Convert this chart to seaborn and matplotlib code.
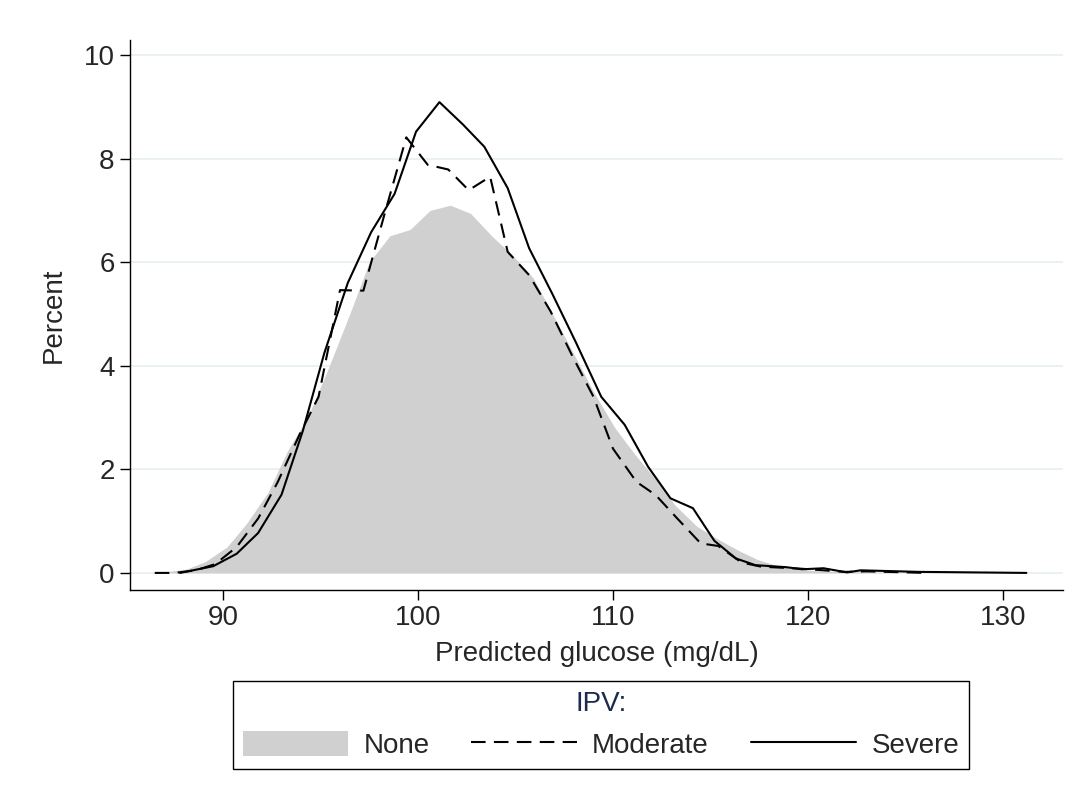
import numpy as np
import pandas as pd
import seaborn as sns
import matplotlib.pyplot as plt
from matplotlib.patches import Patch
from matplotlib.lines import Line2D

# IPV: None (filled area)
none_x = [86.3, 87.0, 88.1, 89.1, 90.2, 91.2, 92.3, 93.3, 94.4, 95.4, 96.5, 97.5,
          98.56, 99.59, 100.62, 101.66, 102.7, 103.8, 104.8, 105.9, 106.9, 108.0,
          109.0, 110.1, 111.1, 112.2, 113.2, 114.3, 115.3, 116.4, 117.4, 118.5,
          119.5, 120.6, 121.6, 122.7, 123.7, 124.8]
none_y = [0.0, 0.02, 0.07, 0.22, 0.5, 0.95, 1.55, 2.35, 3.05, 3.95, 5.0, 6.0,
          6.51, 6.63, 7.0, 7.1, 6.94, 6.5, 6.15, 5.7, 5.0, 4.22,
          3.5, 2.8, 2.3, 1.8, 1.3, 0.9, 0.67, 0.44, 0.26, 0.13,
          0.07, 0.04, 0.03, 0.02, 0.01, 0.0]

# IPV: Moderate (dashed)
mod_x = [86.5, 87.5, 88.6, 89.6, 90.7, 91.8, 92.8, 93.9, 94.9, 96.0, 97.2, 98.3,
         99.4, 100.5, 101.55, 102.6, 103.7, 104.6, 105.7, 106.8, 107.9, 109.0,
         110.0, 111.2, 112.2, 113.3, 114.5, 115.4, 116.6, 117.6, 118.7, 119.7,
         120.8, 121.9, 123.0, 124.0, 125.1, 126.0]
mod_y = [0.0, 0.0, 0.05, 0.17, 0.5, 1.05, 1.75, 2.65, 3.4, 5.46, 5.45, 6.95,
         8.41, 7.88, 7.79, 7.39, 7.65, 6.2, 5.75, 5.05, 4.2, 3.4,
         2.4, 1.76, 1.5, 1.05, 0.57, 0.52, 0.2, 0.12, 0.1, 0.08,
         0.05, 0.02, 0.03, 0.02, 0.01, 0.0]

# IPV: Severe (solid)
sev_x = [87.8, 89.5, 90.7, 91.8, 93.0, 94.1, 95.2, 96.4, 97.6, 98.8, 99.9, 101.1,
         102.3, 103.4, 104.6, 105.7, 106.9, 108.1, 109.4, 110.6, 111.8, 112.95,
         114.1, 115.2, 116.3, 117.3, 118.9, 119.7, 120.8, 122.0, 122.7, 125.7, 131.2]
sev_y = [0.0, 0.13, 0.37, 0.77, 1.51, 2.75, 4.25, 5.6, 6.58, 7.32, 8.52, 9.09,
         8.66, 8.23, 7.43, 6.27, 5.38, 4.45, 3.4, 2.86, 2.05, 1.44,
         1.25, 0.62, 0.28, 0.15, 0.11, 0.07, 0.09, 0.01, 0.05, 0.02, 0.0]

x_ticks = [90, 100, 110, 120, 130]
y_ticks = [0, 2, 4, 6, 8, 10]

sns.set_style("white")
plt.rcParams['font.family'] = ['Liberation Sans', 'DejaVu Sans']

fig = plt.figure(figsize=(10.65, 8.05), dpi=100)
ax = fig.add_axes([130 / 1065, 1 - 590 / 805, (1063 - 130) / 1065, (590 - 40) / 805])

df_none = pd.DataFrame({"glucose": none_x, "pct": none_y})
df_mod = pd.DataFrame({"glucose": mod_x, "pct": mod_y})
df_sev = pd.DataFrame({"glucose": sev_x, "pct": sev_y})

dash = (0, (7, 4))
ax.fill_between(df_none["glucose"], df_none["pct"], 0, color="#d0d0d0", lw=0, zorder=2)
sns.lineplot(data=df_mod, x="glucose", y="pct", ax=ax, color="black", lw=1.5,
             linestyle=dash, estimator=None, sort=False, zorder=3)
sns.lineplot(data=df_sev, x="glucose", y="pct", ax=ax, color="black", lw=1.5,
             estimator=None, sort=False, zorder=4)

ax.set_xlim(85.23, 133.08)
ax.set_ylim(-0.33, 10.29)
ax.set_xticks(x_ticks)
ax.set_yticks(y_ticks)
ax.yaxis.grid(True, color="#e8f0f2", lw=1.3, zorder=0)
ax.xaxis.grid(False)
ax.set_axisbelow(True)

for s in ["top", "right"]:
    ax.spines[s].set_visible(False)
for s in ["left", "bottom"]:
    ax.spines[s].set_color("black")
    ax.spines[s].set_linewidth(1.0)

ax.tick_params(axis="both", direction="out", length=7, width=1, labelsize=20,
               color="black", pad=4, left=True, bottom=True)
ax.set_xlabel("Predicted glucose (mg/dL)", fontsize=20, labelpad=7)
ax.set_ylabel("Percent", fontsize=20, labelpad=12)

handles = [
    Patch(facecolor="#d0d0d0", edgecolor="none"),
    Line2D([], [], color="black", lw=1.5, linestyle=dash),
    Line2D([], [], color="black", lw=1.5),
]
leg = fig.legend(handles, ["None", "Moderate", "Severe"], title="IPV:", ncol=3,
                 loc="center", bbox_to_anchor=(601 / 1065, 1 - 725 / 805),
                 fontsize=20, title_fontsize=20, handlelength=3.8, handleheight=1.0,
                 handletextpad=0.55, columnspacing=1.5, borderpad=0.35,
                 fancybox=False, framealpha=1, edgecolor="black")
leg.get_frame().set_linewidth(1.0)
leg.get_title().set_color("#1c2b4d")

fig.savefig("out.png", dpi=100)
